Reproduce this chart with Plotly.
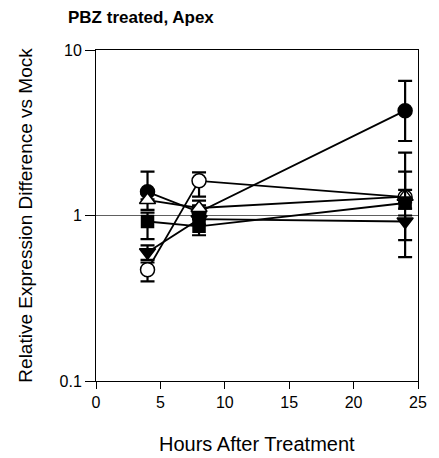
import plotly.graph_objects as go

# Sampling times (hours after PBZ treatment)
hours = [4, 8, 24]

# Relative expression (treated / mock) for each gene, with error-bar limits
filled_circle = [1.39, 1.05, 4.30]
filled_circle_hi = [1.84, 1.15, 6.50]
filled_circle_lo = [1.25, 0.95, 2.82]

open_triangle = [1.24, 1.11, 1.30]
open_triangle_hi = [1.35, 1.23, 1.43]
open_triangle_lo = [1.08, 1.00, 1.20]

filled_square = [0.92, 0.86, 1.19]
filled_square_hi = [1.04, 0.95, 2.40]
filled_square_lo = [0.72, 0.76, 0.56]

filled_tri_down = [0.60, 0.95, 0.92]
filled_tri_down_hi = [0.66, 1.02, 1.00]
filled_tri_down_lo = [0.54, 0.88, 0.71]

open_circle = [0.47, 1.62, 1.29]
open_circle_hi = [0.52, 1.82, 1.84]
open_circle_lo = [0.40, 1.30, 1.10]

x_ticks = [0, 5, 10, 15, 20, 25]
y_ticks = [0.1, 1, 10]
y_tick_labels = ["0.1", "1", "10"]

FONT = "Liberation Sans, Arial, sans-serif"

# Drawing order: later series sit on top of earlier ones
series = [
    (open_circle, open_circle_hi, open_circle_lo, "circle", "white", 14),
    (filled_circle, filled_circle_hi, filled_circle_lo, "circle", "black", 14),
    (open_triangle, open_triangle_hi, open_triangle_lo, "triangle-up", "white", 14),
    (filled_square, filled_square_hi, filled_square_lo, "square", "black", 12),
    (filled_tri_down, filled_tri_down_hi, filled_tri_down_lo, "triangle-down", "black", 14),
]

fig = go.Figure()
for vals, hi, lo, sym, fill, size in series:
    fig.add_trace(go.Scatter(
        x=hours, y=vals, mode="lines+markers",
        line=dict(color="black", width=1.8),
        marker=dict(symbol=sym, size=size, color=fill,
                    line=dict(color="black", width=1.5)),
        error_y=dict(type="data", symmetric=False,
                     array=[h - v for h, v in zip(hi, vals)],
                     arrayminus=[v - l for v, l in zip(vals, lo)],
                     color="black", thickness=2.2, width=7),
        showlegend=False, cliponaxis=False,
    ))

# Reference line at no change (ratio = 1)
fig.add_shape(type="line", xref="paper", yref="y", x0=-0.03, x1=1, y0=1, y1=1,
              line=dict(color="#606060", width=1), layer="below")

# Significance marker
fig.add_annotation(x=24, y=8.1, text="*", showarrow=False,
                   font=dict(family=FONT, size=16, color="black"))

fig.add_annotation(text="<b>PBZ treated, Apex</b>", xref="paper", yref="paper",
                   x=-0.094, y=1.098, xanchor="left", yanchor="middle", showarrow=False,
                   font=dict(family=FONT, size=17, color="black"))
fig.add_annotation(text="Hours After Treatment", xref="paper", yref="paper",
                   x=0.5, y=-0.19, xanchor="center", yanchor="middle", showarrow=False,
                   font=dict(family=FONT, size=20, color="black"))
fig.add_annotation(text="Relative Expression Difference vs Mock", xref="paper", yref="paper",
                   x=-0.22, y=0.5, xanchor="center", yanchor="middle", textangle=-90,
                   showarrow=False, font=dict(family=FONT, size=19, color="black"))

fig.update_xaxes(range=[0, 25], tickvals=x_ticks, ticks="outside", ticklen=7,
                 tickwidth=1, tickcolor="black", showline=True, linecolor="black",
                 linewidth=1, mirror=True, showgrid=False, zeroline=False,
                 tickfont=dict(family=FONT, size=16, color="black"))
fig.update_yaxes(type="log", range=[-1, 1], tickvals=y_ticks, ticktext=y_tick_labels,
                 ticks="outside", ticklen=10, tickwidth=1, tickcolor="black",
                 showline=True, linecolor="black", linewidth=1, mirror=True,
                 showgrid=False, zeroline=False,
                 tickfont=dict(family=FONT, size=16, color="black"))

fig.update_layout(width=439, height=458, margin=dict(l=96, r=14, t=50, b=77),
                  plot_bgcolor="white", paper_bgcolor="white")

fig.write_html("out.html")
